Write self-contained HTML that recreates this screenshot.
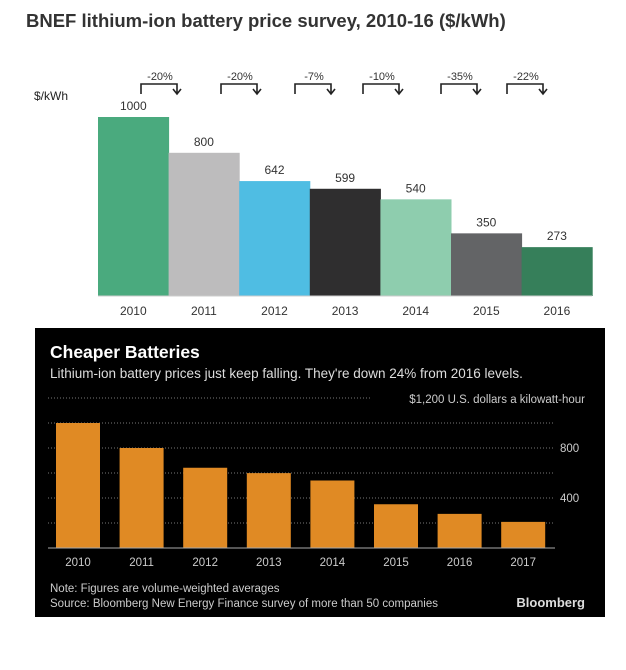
<!DOCTYPE html>
<html><head><meta charset="utf-8"><style>
body{margin:0;background:#fff;width:626px;height:670px;overflow:hidden;font-family:"Liberation Sans",sans-serif}
svg{display:block}
</style></head><body>
<svg width="626" height="670">
<text x="26" y="27" font-size="18.5" font-weight="bold" fill="#333">BNEF lithium-ion battery price survey, 2010-16 ($/kWh)</text>
<text x="34" y="100" font-size="12" fill="#222">$/kWh</text>
<g id="top"></g>
<line x1="98" y1="296" x2="592" y2="296" stroke="#ccc"/>
<rect x="35" y="328" width="570" height="289" fill="#000"/>
<text x="50" y="358" font-size="17.5" font-weight="bold" fill="#fff">Cheaper Batteries</text>
<text x="50" y="378" font-size="13.5" fill="#ddd">Lithium-ion battery prices just keep falling. They're down 24% from 2016 levels.</text>
<text x="585" y="403" font-size="11.5" fill="#ccc" text-anchor="end">$1,200 U.S. dollars a kilowatt-hour</text>
<g id="bot"></g>
<text x="50" y="592" font-size="11.5" fill="#ccc">Note: Figures are volume-weighted averages</text>
<text x="50" y="607" font-size="11.5" fill="#ccc">Source: Bloomberg New Energy Finance survey of more than 50 companies</text>
<text x="585" y="607" font-size="13" font-weight="bold" fill="#ddd" text-anchor="end">Bloomberg</text>
</svg>
<script>
const topYears=["2010","2011","2012","2013","2014","2015","2016"];
const topValues=[1000,800,642,599,540,350,273];
const topColors=["#4aaa7e","#bdbcbd","#4fbde3","#2f2e2f","#8ecdae","#636466","#367f5a"];
const changeLabels=["-20%","-20%","-7%","-10%","-35%","-22%"];
const botYears=["2010","2011","2012","2013","2014","2015","2016","2017"];
const botValues=[1000,800,642,599,540,350,273,209];
const botTicks=[200,400,600,800,1000,1200];
const botTickLabels={800:"800",400:"400"};
const NS="http://www.w3.org/2000/svg";
function mk(p,t,a,txt){const e=document.createElementNS(NS,t);for(const k in a)e.setAttribute(k,a[k]);if(txt!=null)e.textContent=txt;p.appendChild(e);return e;}
const T=document.getElementById('top');
const tx=i=>98+i*70.6, tw=70.6, ty=v=>296-v*0.179;
topValues.forEach((v,i)=>{
 const r=mk(T,'rect',{x:tx(i),y:ty(v),width:tw+0.5,height:296-ty(v),fill:topColors[i]});
 
 
 const l=mk(T,'text',{x:tx(i)+tw/2,y:ty(v)-7,'font-size':12,fill:'#333','text-anchor':'middle'},String(v));
 
 
 const y=mk(T,'text',{x:tx(i)+tw/2,y:315,'font-size':12,fill:'#333','text-anchor':'middle'},topYears[i]);
 
 
});
const bx=[141,221,295,363,441,507];
changeLabels.forEach((c,i)=>{
 const x=bx[i];
 const g=mk(T,'g',{});
 
 
 mk(g,'text',{x:x+19,y:80,'font-size':11,fill:'#333','text-anchor':'middle'},c);
 mk(g,'path',{d:`M${x} 94V84H${x+36}V94M${x+32} 89L${x+36} 94L${x+40} 89`,stroke:'#222','stroke-width':1.6,fill:'none'});
});
const B=document.getElementById('bot');
const bY=v=>548-v*0.125, bC=i=>78+i*63.6;
botTicks.forEach(t=>{
 const l=mk(B,'line',{x1:48,x2:t==1200?372:555,y1:bY(t),y2:bY(t),stroke:'#777','stroke-dasharray':'1,2'});
 
 
 if(botTickLabels[t]){const s=mk(B,'text',{x:560,y:bY(t)+4,'font-size':11.5,fill:'#ccc'},botTickLabels[t]);
 
 }
});
botValues.forEach((v,i)=>{
 const r=mk(B,'rect',{x:bC(i)-22,y:bY(v),width:44,height:548-bY(v),fill:'#e08a24'});
 
 
 const y=mk(B,'text',{x:bC(i),y:566,'font-size':11.5,fill:'#ccc','text-anchor':'middle'},botYears[i]);
 
 
});
const ax=mk(B,'line',{x1:48,x2:555,y1:548,y2:548,stroke:'#aaa','stroke-width':1});


</script>
</body></html>
